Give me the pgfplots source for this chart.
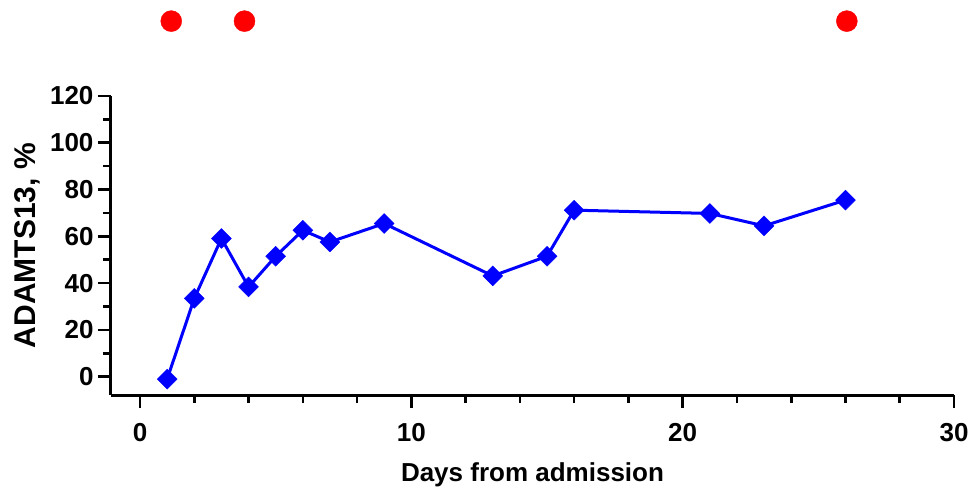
\documentclass[border=0pt]{standalone}
\usepackage{fontspec}
\setmainfont{Liberation Sans}
\usepackage{pgfplots}
\pgfplotsset{compat=1.18}
\begin{document}
\begin{tikzpicture}[x=1pt,y=1pt]
\path (0,0) rectangle (974,493);
\begin{axis}[
  at={(111pt,98pt)}, anchor=south west,
  scale only axis, width=843pt, height=299pt,
  xmin=-1.07, xmax=30, ymin=-7.8, ymax=120,
  axis lines=left,
  axis line style={-, line width=3pt, black},
  clip=false,
  xtick={0,10,20,30}, minor x tick num=4,
  ytick={0,20,40,60,80,100,120}, minor y tick num=1,
  tick align=outside,
  major tick length=13pt, minor tick length=8pt,
  every tick/.style={line width=2.6pt, black},
  /pgf/number format/assume math mode=true,
  ticklabel style={font=\fontsize{26}{28}\selectfont\bfseries},
  xticklabel style={yshift=-12pt},
  yticklabel style={xshift=-1pt},
  xlabel={Days from admission},
  ylabel={ADAMTS13, \%},
  xlabel style={font=\fontsize{26}{28}\selectfont\bfseries, yshift=-14pt},
  ylabel style={font=\fontsize{30}{32}\selectfont\bfseries, yshift=3pt},
]
\addplot[blue, line width=3pt, mark=square*, mark size=7pt, mark options={rotate=45, fill=blue, draw=blue, line width=0.5pt}]
coordinates {
(1,-1) (2,33.5) (3,59.1) (4,38.4) (5,51.5) (6,62.6) (7,57.6) (9,65.5)
(13,43.1) (15,51.5) (16,71.2) (21,69.8) (23,64.5) (26,75.5)
};
\addplot[only marks, mark=*, mark size=10.5pt, red, mark options={fill=red, draw=red}]
coordinates {(1.15,152) (3.85,152) (26.05,152)};
\end{axis}
\end{tikzpicture}
\end{document}
